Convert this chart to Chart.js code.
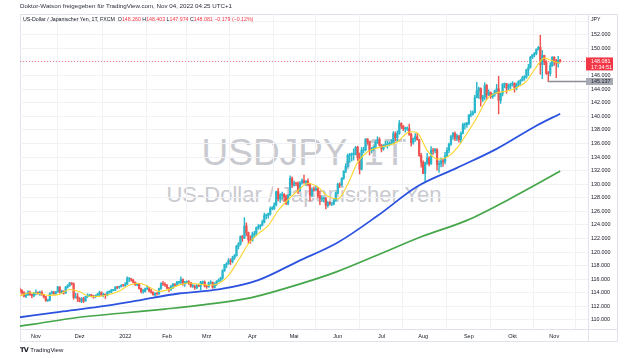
<!DOCTYPE html>
<html><head><meta charset="utf-8">
<script src="https://cdn.jsdelivr.net/npm/chart.js@4.4.0/dist/chart.umd.min.js"></script>
<style>
html,body{margin:0;padding:0;background:#fff;width:630px;height:358px;overflow:hidden;font-family:"Liberation Sans",Arial,sans-serif;}
#wrap{position:relative;width:630px;height:358px;}
.t{position:absolute;white-space:nowrap;color:#131722;}
.wm{position:absolute;left:20px;width:568px;text-align:center;white-space:nowrap;color:#c9cacf;}
#wm1{top:134px;font-size:37px;line-height:37px;}
#wm2{top:184px;font-size:22px;line-height:22px;}
#frame{position:absolute;left:20px;top:14px;width:598px;height:328px;border:1px solid #e0e3eb;box-sizing:border-box;}
canvas{position:absolute;left:0;top:0;}
#hdr{left:20px;top:2px;font-size:6.2px;line-height:7px;color:#2a2e39;}
#leg{left:23px;top:15.5px;font-size:5.25px;line-height:7px;}
#leg .r{color:#f23645;}
#jpy{left:591px;top:16px;font-size:5.2px;line-height:7px;}
#tv{left:20px;top:346px;font-size:6px;line-height:8px;}
#tv b{font-family:"DejaVu Sans",sans-serif;font-size:6.5px;letter-spacing:-0.6px;margin-right:2px;}
</style></head>
<body>
<div id="wrap">
  <div id="frame"></div>
  <div class="wm" id="wm1">USDJPY, 1T</div>
  <div class="wm" id="wm2">US-Dollar / Japanischer Yen</div>
  <canvas id="c" width="630" height="358"></canvas>
  <div class="t" id="hdr">Doktor-Watson freigegeben für TradingView.com, Nov 04, 2022 04:25 UTC+1</div>
  <div class="t" id="leg">US-Dollar / Japanischer Yen, 1T, FXCM&nbsp; O<span class="r">148.260</span> H<span class="r">148.403</span> L<span class="r">147.974</span> C<span class="r">148.081</span> <span class="r">−0.179 (−0.12%)</span></div>
  <div class="t" id="jpy">JPY</div>
  <div class="t" id="tv"><b>TV</b>TradingView</div>
</div>
<script>
// ---- data (daily USDJPY candles, Oct 20 2021 .. Nov 4 2022) ----
const startDate = '2021-10-20';
const opens = [
114.36,114.33,114.00,113.50,113.70,114.14,113.75,113.55,
113.95,114.00,113.95,114.05,113.77,113.40,112.85,112.90,113.90,114.15,113.90,114.15,114.85,114.10,114.25,114.00,114.85,115.10,115.45,115.35,113.30,113.45,
113.15,112.75,113.15,112.80,113.45,113.55,113.65,113.45,113.40,113.55,113.75,114.05,113.70,113.70,113.65,114.10,114.10,114.40,114.40,114.85,114.80,114.95,115.10,
115.08,115.30,116.10,116.10,115.85,115.55,115.20,115.30,114.65,114.20,114.20,114.60,114.60,114.30,114.05,113.70,113.95,113.85,114.65,115.35,115.25,
115.10,114.70,114.45,114.95,115.25,115.10,115.55,115.55,115.95,115.40,115.55,115.60,115.50,114.95,115.00,114.75,115.05,115.00,115.55,115.55,
114.95,114.90,115.45,115.50,114.80,115.30,115.70,115.85,116.15,117.30,118.15,118.30,118.75,118.60,119.15,119.45,120.85,121.20,122.30,122.05,123.85,122.85,121.85,
121.70,122.55,122.75,123.60,123.75,123.95,124.35,125.35,125.40,125.60,126.40,126.40,126.95,128.90,127.85,128.40,128.50,128.15,127.20,128.40,130.85,
129.85,130.15,130.10,129.10,130.20,130.55,130.25,130.45,129.95,128.35,129.25,129.15,129.35,128.25,127.80,127.90,127.90,126.85,127.30,127.10,127.10,127.60,
128.70,130.00,129.85,130.90,131.90,132.65,134.25,134.35,134.40,134.40,135.45,133.95,132.20,135.00,135.05,136.65,136.25,134.95,135.20,135.45,136.15,136.60,
135.75,135.20,135.70,135.85,135.90,135.95,136.10,137.45,136.85,137.45,138.95,138.55,138.15,138.20,138.20,137.35,136.10,136.70,137.00,136.55,134.25,
133.25,131.60,133.15,133.85,133.00,135.00,134.90,135.10,132.90,133.00,133.45,133.30,134.20,135.00,135.90,137.00,137.45,136.75,137.10,136.55,137.50,138.75,138.75,
138.95,140.20,140.25,140.55,142.75,143.75,144.10,142.55,142.85,144.55,143.15,143.50,142.90,143.20,143.75,144.05,142.35,143.35,144.75,144.80,144.15,144.45,
144.75,144.85,144.15,144.60,145.15,145.30,145.70,145.80,146.85,147.20,148.70,149.05,149.25,149.85,150.15,147.65,148.95,148.00,146.35,146.30,147.45,
148.70,148.15,147.85,148.26];
const highs = [
114.69,114.46,114.20,113.95,114.30,114.25,113.85,114.05,
114.45,114.15,114.25,114.30,113.80,113.50,113.05,114.00,114.25,114.20,114.20,114.97,114.90,114.40,114.30,114.95,115.20,115.52,115.50,115.45,113.95,113.90,
113.30,113.30,113.35,113.50,113.85,113.80,113.80,113.65,113.70,113.90,114.25,114.15,113.95,113.85,114.20,114.30,114.50,114.45,114.90,114.95,115.00,115.20,115.20,
115.50,116.35,116.20,116.05,116.00,115.60,115.40,115.35,114.70,114.50,114.70,115.05,114.85,114.50,114.20,114.00,114.05,114.70,115.50,115.70,115.50,
115.25,114.80,115.10,115.40,115.35,115.70,115.70,116.34,116.05,115.70,115.75,115.80,115.55,115.20,115.15,115.20,115.20,115.70,115.75,115.75,
115.10,115.60,115.80,115.60,115.50,115.80,116.05,116.30,117.40,118.20,118.45,119.05,119.00,119.40,119.65,121.00,121.40,122.40,122.45,125.09,124.30,122.95,122.40,
122.95,123.05,123.70,124.05,124.05,124.70,125.75,125.60,125.75,126.65,126.70,127.25,129.00,129.40,128.60,128.85,128.60,128.40,128.45,131.25,131.10,
130.45,130.25,130.35,130.40,130.80,131.35,130.55,130.80,130.05,129.45,129.60,129.80,129.50,128.95,128.25,128.10,128.05,127.45,127.45,127.30,127.80,128.85,
130.15,130.20,130.95,132.00,133.00,134.45,134.55,134.60,135.20,135.55,135.59,134.60,135.40,135.45,136.70,136.71,136.35,135.40,135.55,136.40,137.00,136.85,
135.85,135.85,136.30,136.30,136.20,136.55,137.75,137.70,137.85,139.39,139.05,138.65,138.40,138.45,138.85,137.50,136.80,137.45,137.45,136.60,134.55,
133.45,133.25,134.55,134.05,135.55,135.30,135.30,135.25,133.45,133.90,133.65,134.70,135.40,136.05,137.20,137.65,137.70,137.40,137.20,137.70,139.00,139.05,139.10,
140.25,140.80,140.80,143.10,144.99,144.30,144.20,143.10,144.95,144.70,143.90,143.60,143.35,143.85,144.70,145.90,143.45,144.80,144.90,144.85,144.75,144.90,
145.10,144.95,144.90,145.25,145.45,145.90,146.00,146.95,147.65,148.85,149.10,149.40,149.95,150.30,151.95,149.70,149.00,148.20,146.60,147.90,148.80,
148.80,148.40,148.85,148.403];
const lows = [
113.98,113.73,113.41,113.30,113.60,113.60,113.25,113.45,
113.70,113.75,113.60,113.60,113.20,112.75,112.72,112.80,113.85,113.75,113.75,114.05,113.95,113.90,113.80,113.90,114.70,114.95,115.15,113.05,113.20,112.70,
112.65,112.55,112.55,112.75,113.30,113.45,113.40,113.20,113.30,113.45,113.60,113.60,113.40,113.15,113.55,113.95,114.00,114.30,114.30,114.60,114.65,114.85,114.95,
114.95,115.20,115.65,115.70,115.45,115.10,115.00,114.55,114.00,113.90,114.10,114.45,114.15,113.95,113.65,113.47,113.65,113.75,114.50,115.10,114.95,
114.60,114.15,114.35,114.60,114.95,115.00,115.30,115.30,115.10,114.95,115.40,115.20,114.85,114.80,114.50,114.60,114.90,114.41,115.35,114.85,
114.65,114.80,115.30,114.65,114.70,115.10,115.60,115.70,116.00,117.15,117.70,118.20,118.15,118.40,118.90,119.40,120.45,121.00,121.55,122.00,122.40,121.30,121.30,
121.60,122.15,122.45,123.35,123.35,123.85,124.30,124.90,125.00,125.45,126.20,126.25,126.80,127.55,127.30,127.80,127.50,127.00,126.95,128.30,129.50,
129.70,129.80,128.60,128.95,130.00,130.10,129.80,129.75,127.52,128.15,128.95,129.00,128.00,127.00,127.45,127.35,126.36,126.60,126.90,126.85,126.95,127.45,
128.60,129.50,129.70,130.70,131.70,132.50,133.20,133.40,133.55,134.30,133.50,131.50,132.10,134.60,134.90,135.90,134.30,134.60,134.90,135.30,136.00,135.60,
134.75,135.00,135.50,135.30,135.65,135.80,136.00,136.40,136.40,137.35,138.20,137.90,137.65,137.90,137.20,135.60,135.90,136.30,136.50,134.10,132.50,
131.55,130.40,132.90,132.70,132.90,134.40,134.60,132.05,131.75,132.55,132.60,133.00,134.00,134.60,135.70,136.60,136.40,136.40,136.20,136.10,137.40,138.10,138.35,
138.75,139.90,140.15,140.50,142.70,142.65,141.50,142.15,142.40,142.55,143.05,142.65,142.65,142.95,143.35,140.35,141.90,143.00,144.20,143.40,143.90,144.05,
144.45,143.55,143.90,144.40,144.70,145.20,145.30,145.60,146.00,147.10,148.50,148.75,149.05,149.75,146.20,145.55,147.60,146.15,145.10,145.95,147.35,
147.50,145.68,147.25,147.974];
const closes = [
114.33,114.00,113.50,113.70,114.14,113.75,113.55,113.95,
114.00,113.95,114.05,113.77,113.40,112.85,112.90,113.90,114.15,113.90,114.15,114.85,114.10,114.25,114.00,114.85,115.10,115.45,115.35,113.30,113.45,113.15,
112.75,113.15,112.80,113.45,113.55,113.65,113.45,113.40,113.55,113.75,114.05,113.70,113.70,113.65,114.10,114.10,114.40,114.40,114.85,114.80,114.95,115.10,115.08,
115.30,116.10,116.10,115.85,115.55,115.20,115.30,114.65,114.20,114.20,114.60,114.60,114.30,114.05,113.70,113.95,113.85,114.65,115.35,115.25,115.10,
114.70,114.45,114.95,115.25,115.10,115.55,115.55,115.95,115.40,115.55,115.60,115.50,114.95,115.00,114.75,115.05,115.00,115.55,115.55,114.95,
114.90,115.45,115.50,114.80,115.30,115.70,115.85,116.15,117.30,118.15,118.30,118.75,118.60,119.15,119.45,120.85,121.20,122.30,122.05,123.85,122.85,121.85,121.70,
122.55,122.75,123.60,123.75,123.95,124.35,125.35,125.40,125.60,126.40,126.40,126.95,128.90,127.85,128.40,128.50,128.15,127.20,128.40,130.85,129.85,
130.15,130.10,129.10,130.20,130.55,130.25,130.45,129.95,128.35,129.25,129.15,129.35,128.25,127.80,127.90,127.90,126.85,127.30,127.10,127.10,127.60,128.70,
130.00,129.85,130.90,131.90,132.65,134.25,134.35,134.40,134.40,135.45,133.95,132.20,135.00,135.05,136.65,136.25,134.95,135.20,135.45,136.15,136.60,135.75,
135.20,135.70,135.85,135.90,135.95,136.10,137.45,136.85,137.45,138.95,138.55,138.15,138.20,138.20,137.35,136.10,136.70,137.00,136.55,134.25,133.25,
131.60,133.15,133.85,133.00,135.00,134.90,135.10,132.90,133.00,133.45,133.30,134.20,135.00,135.90,137.00,137.45,136.75,137.10,136.55,137.50,138.75,138.75,138.95,
140.20,140.25,140.55,142.75,143.75,144.10,142.55,142.85,144.55,143.15,143.50,142.90,143.20,143.75,144.05,142.35,143.35,144.75,144.80,144.15,144.45,144.75,
144.85,144.15,144.60,145.15,145.30,145.70,145.80,146.85,147.20,148.70,149.05,149.25,149.85,150.15,147.65,148.95,148.00,146.35,146.30,147.45,148.70,
148.15,147.85,148.25,148.081];

// moving averages (candle index -> value)
const maFastIdx = [0,5,10,15,20,25,30,35,40,45,50,55,60,65,70,75,80,85,90,95,100,105,110,115,120,125,130,135,140,145,150,155,160,165,170,175,180,185,190,195,197,200,205,210,215,220,225,230,235,240,245,250,255,260,264,267,270,272];
const maFast = [113.55,114.0,113.86,113.63,113.8,114.48,114.17,113.46,113.48,113.75,114.27,115.11,115.42,114.85,114.21,114.51,115.13,115.44,115.28,115.12,115.36,116.58,118.79,121.22,122.73,123.9,126.12,127.72,129.07,130.15,129.58,128.21,127.83,130.01,133.21,134.77,135.35,135.68,136.22,137.59,137.73,137.58,134.98,133.7,133.99,135.32,137.47,139.8,142.47,143.46,143.68,144.22,145.16,147.29,148.57,148.3,147.96,147.81];
const maMidIdx = [0,20,40,60,80,100,120,140,160,180,200,220,240,260,272];
const maMid = [110.4,111.2,111.95,112.9,113.9,114.5,115.88,118.64,121.41,125.34,129.65,132.4,135.2,138.61,140.38];
const maSlowIdx = [0,7,29,52,73,93,116,137,159,181,202,225,247,268,272];
const maSlow = [109.1,109.39,110.36,111.03,111.61,112.25,113.26,114.95,117.05,119.69,122.25,124.67,127.9,131.27,131.94];

const monthTickLabels = ['Nov','Dez','2022','Feb','Mrz','Apr','Mai','Jun','Jul','Aug','Sep','Okt','Nov'];
const lastPrice = 148.081;
const countdown = '17:34:51';
const rayPrice = 145.137;
const rayStartDate = '2022-10-27';

// ---- build ----
const PAD_SLOTS = 14;
const N = closes.length + PAD_SLOTS;
const labels = [];
{
  const d = new Date(startDate + 'T00:00:00Z');
  while (labels.length < N) {
    const wd = d.getUTCDay();
    if (wd !== 0 && wd !== 6) labels.push(d.toISOString().slice(0,10));
    d.setUTCDate(d.getUTCDate() + 1);
  }
}
const monthAt = {};
{
  let m = 0;
  for (let i = 1; i < closes.length; i++) {
    if (labels[i].slice(0,7) !== labels[i-1].slice(0,7) && m < monthTickLabels.length) {
      monthAt[i] = monthTickLabels[m++];
    }
  }
}
function sparse(idx, vals) {
  const a = new Array(N).fill(null);
  idx.forEach((k, j) => { a[k] = vals[j]; });
  return a;
}
const UP = '#2bb7cb', DOWN = '#ef5350';
const candleColors = closes.map((c, i) => c >= opens[i] ? UP : DOWN);
const bodies = closes.map((c, i) => [Math.min(opens[i], c), Math.max(opens[i], c)]);
const wicks = closes.map((c, i) => [lows[i], highs[i]]);
const FONT = '"Liberation Sans", Arial, sans-serif';
const GRID = '#f0f2f6';

const overlay = {
  id: 'overlay',
  beforeDatasetsDraw(chart) {
    const {ctx, chartArea: a, scales: {y}} = chart;
    const py = Math.round(y.getPixelForValue(lastPrice)) + 0.5;
    ctx.save();
    ctx.strokeStyle = 'rgba(242,54,69,0.6)';
    ctx.lineWidth = 1;
    ctx.setLineDash([1, 2]);
    ctx.beginPath(); ctx.moveTo(a.left, py); ctx.lineTo(a.right, py); ctx.stroke();
    ctx.restore();
  },
  afterDraw(chart) {
    const {ctx, chartArea: a, scales: {x, y}} = chart;
    ctx.save();
    ctx.strokeStyle = '#e0e3eb'; ctx.lineWidth = 1;
    ctx.beginPath(); ctx.moveTo(a.left, a.bottom + 0.5); ctx.lineTo(617, a.bottom + 0.5); ctx.stroke();
    ctx.beginPath(); ctx.moveTo(a.right + 0.5, a.top); ctx.lineTo(a.right + 0.5, 342); ctx.stroke();
    const ri = labels.indexOf(rayStartDate);
    const rx = x.getPixelForValue(ri);
    const ry = Math.round(y.getPixelForValue(rayPrice)) + 0.5;
    ctx.strokeStyle = '#8a8d96'; ctx.lineWidth = 1.3;
    ctx.beginPath(); ctx.moveTo(rx, ry); ctx.lineTo(a.right, ry); ctx.stroke();
    ctx.fillStyle = '#a7aab3';
    ctx.fillRect(586, ry - 3.5, 27, 7);
    ctx.fillStyle = '#1e222d';
    ctx.font = '5.4px ' + FONT;
    ctx.textBaseline = 'middle'; ctx.textAlign = 'left';
    ctx.fillText(rayPrice.toFixed(3), 591, ry + 0.3);
    const py = y.getPixelForValue(lastPrice);
    ctx.fillStyle = '#f23645';
    ctx.fillRect(586, py - 4, 27, 13);
    ctx.fillStyle = '#ffffff';
    ctx.fillText(lastPrice.toFixed(3), 591, py + 0.3);
    ctx.fillText(countdown, 591, py + 6);
    ctx.restore();
  }
};

new Chart(document.getElementById('c'), {
  type: 'bar',
  data: {
    labels,
    datasets: [
      {type: 'line', data: sparse(maFastIdx, maFast), borderColor: '#fbd52c', borderWidth: 1.1, pointRadius: 0, spanGaps: true, cubicInterpolationMode: 'monotone', order: 0},
      {type: 'line', data: sparse(maMidIdx, maMid), borderColor: '#2c52e0', borderWidth: 1.8, pointRadius: 0, spanGaps: true, cubicInterpolationMode: 'monotone', order: 0},
      {type: 'line', data: sparse(maSlowIdx, maSlow), borderColor: '#46a64a', borderWidth: 1.7, pointRadius: 0, spanGaps: true, cubicInterpolationMode: 'monotone', order: 0},
      {type: 'bar', data: bodies, backgroundColor: candleColors, barThickness: 1.6, grouped: false, minBarLength: 0.8, order: 1},
      {type: 'bar', data: wicks, backgroundColor: candleColors, barThickness: 0.8, grouped: false, order: 2}
    ]
  },
  options: {
    responsive: false,
    animation: false,
    devicePixelRatio: 1,
    events: [],
    layout: {padding: {left: 20, top: 14, right: 13, bottom: 16}},
    plugins: {legend: {display: false}, tooltip: {enabled: false}},
    scales: {
      x: {
        type: 'category', offset: false,
        grid: {color: GRID, drawTicks: false, lineWidth: 1},
        border: {display: false},
        ticks: {autoSkip: false, maxRotation: 0, minRotation: 0, padding: 4, color: '#131722', font: {size: 5.5, family: FONT},
          callback: (v, i) => (monthAt[i] !== undefined ? monthAt[i] : null)},
        afterFit(s) { s.height = 13; }
      },
      y: {
        position: 'right', min: 108.67, max: 155.07,
        grid: {color: GRID, drawTicks: false, lineWidth: 1},
        border: {display: false},
        ticks: {stepSize: 2, includeBounds: false, padding: 3, color: '#131722', font: {size: 5.4, family: FONT},
          callback: (v) => (v > 153 ? '' : Number(v).toFixed(3))},
        afterFit(s) { s.width = 29; }
      }
    }
  },
  plugins: [overlay]
});
</script>
</body></html>
